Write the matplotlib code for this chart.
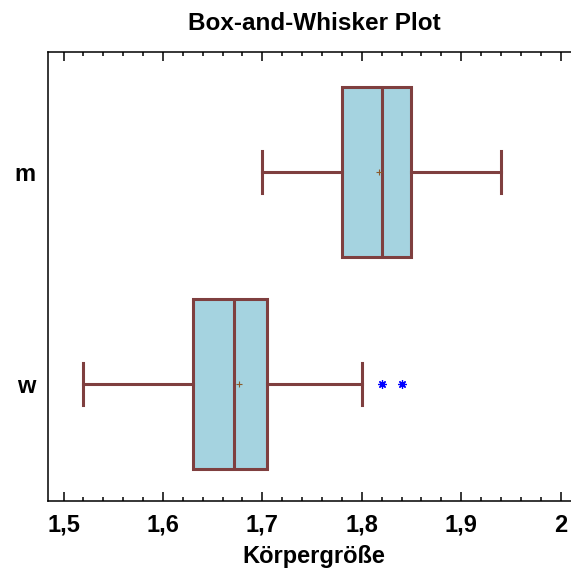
import matplotlib
matplotlib.use("Agg")
import matplotlib.pyplot as plt
from matplotlib.ticker import MultipleLocator, FuncFormatter

plt.rcParams['font.family'] = ['Liberation Sans', 'DejaVu Sans']

# Kennwerte der beiden Gruppen
groups = ["w", "m"]
whisker_lo = [1.52, 1.70]
q1 = [1.63, 1.78]
median = [1.671, 1.82]
q3 = [1.705, 1.85]
whisker_hi = [1.80, 1.94]
means = [1.676, 1.817]
outliers = [[1.82, 1.84], []]

stats = []
for i, g in enumerate(groups):
    stats.append(dict(label=g, whislo=whisker_lo[i], q1=q1[i], med=median[i],
                      q3=q3[i], whishi=whisker_hi[i], mean=means[i], fliers=outliers[i]))

edge = "#7f3f3f"
fill = "#a5d3e0"

fig = plt.figure(figsize=(5.71, 5.70), dpi=100)
ax = fig.add_axes([0.0835, 0.121, 0.933, 0.7877])

ax.bxp(stats, positions=[1, 2], vert=False, widths=0.8, patch_artist=True,
       showmeans=True, showfliers=True,
       boxprops=dict(facecolor=fill, edgecolor=edge, linewidth=2.2),
       medianprops=dict(color=edge, linewidth=2.2),
       whiskerprops=dict(color=edge, linewidth=2.2),
       capprops=dict(color=edge, linewidth=2.2),
       capwidths=0.2,
       meanprops=dict(marker="+", markeredgecolor="#8b5a2b", markersize=4, markeredgewidth=0.8),
       flierprops=dict(marker=(8, 2, 0), markeredgecolor="blue", markerfacecolor="blue",
                       markersize=6, markeredgewidth=0.9, linestyle="none"))

ax.set_xlim(1.484, 2.02)
ax.set_ylim(0.448, 2.566)
ax.xaxis.set_major_locator(MultipleLocator(0.1))
ax.xaxis.set_minor_locator(MultipleLocator(0.02))
ax.xaxis.set_major_formatter(FuncFormatter(lambda v, p: f"{v:.1f}".replace(".", ",").replace(",0", "")))
ax.tick_params(axis="x", which="major", direction="in", length=6.3, width=1.1, top=True,
               labelsize=17, pad=9)
ax.tick_params(axis="x", which="minor", direction="in", length=3.2, width=1.1, top=True)
ax.tick_params(axis="y", length=0, labelsize=17, pad=9)
for lbl in ax.get_xticklabels() + ax.get_yticklabels():
    lbl.set_fontweight("bold")
for s in ax.spines.values():
    s.set_linewidth(1.1)
ax.spines["right"].set_visible(False)

ax.set_xlabel("Körpergröße", fontsize=17, fontweight="bold", labelpad=6)
ax.set_title("Box-and-Whisker Plot", fontsize=17.5, fontweight="bold", pad=16)

fig.savefig("out.png", dpi=100)
